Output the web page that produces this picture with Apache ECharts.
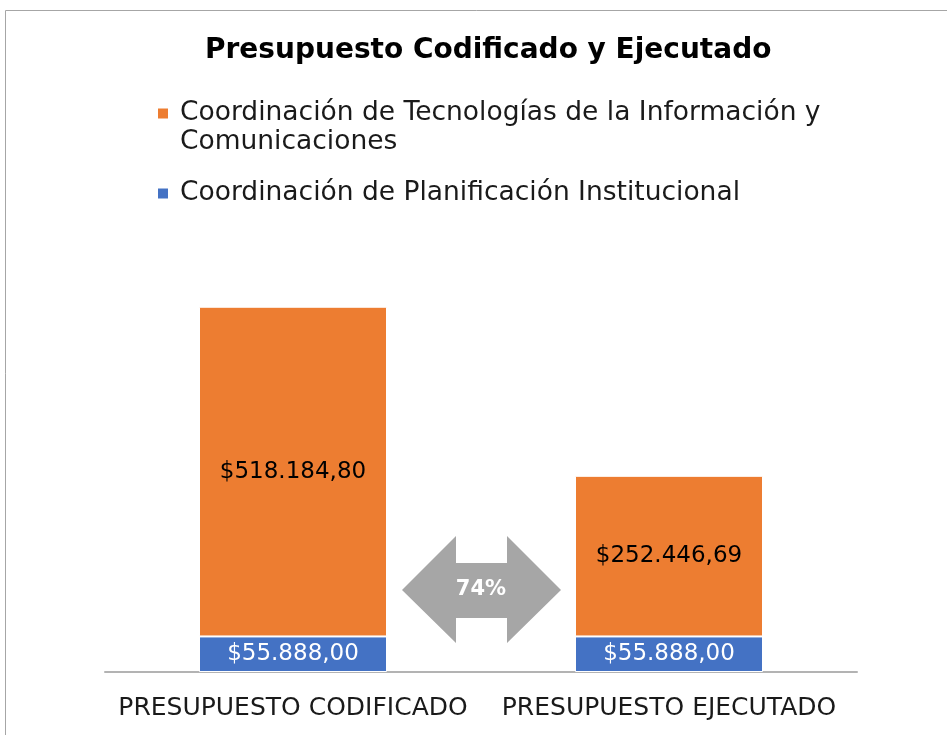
<!DOCTYPE html>
<html>
<head>
<meta charset="utf-8">
<script src="https://cdn.jsdelivr.net/npm/echarts@6/dist/echarts.min.js"></script>
<style>
html,body{margin:0;padding:0;background:#fff;}
#main{width:947px;height:735px;}
</style>
</head>
<body>
<div id="main"></div>
<script>
var categories = ['PRESUPUESTO CODIFICADO', 'PRESUPUESTO EJECUTADO'];
var planificacion = [55888.00, 55888.00];
var tecnologias = [518184.80, 252446.69];
var seriesNames = ['Coordinación de Tecnologías de la Información y Comunicaciones', 'Coordinación de Planificación Institucional'];
var arrowText = '74%';

var FONT = 'DejaVu Sans';

// formato 518.184,80
function moneda(v) {
	var partes = v.toFixed(2).split('.');
	var entero = partes[0].replace(/\B(?=(\d{3})+(?!\d))/g, '.');
	return '$' + entero + ',' + partes[1];
}

var myChart = echarts.init(document.getElementById('main'));
var option = {
	animation: false,
	textStyle: {fontFamily: FONT},
	title: {
		text: 'Presupuesto Codificado y Ejecutado',
		left: 200,
		top: 32,
		textStyle: {fontFamily: FONT, fontWeight: 'bold', fontSize: 28, color: '#000'}
	},
	legend: [{
		data: [seriesNames[0]],
		left: 151,
		top: 65,
		itemWidth: 12,
		itemHeight: 12,
		icon: 'rect',
		// linea vacia arriba para que el icono quede en la primera linea
		formatter: function () { return '\nCoordinación de Tecnologías de la Información y\nComunicaciones'; },
		textStyle: {fontSize: 26.5, color: '#1a1a1a', lineHeight: 29, padding: [0, 0, 0, 6]}
	}, {
		data: [seriesNames[1]],
		left: 151,
		top: 174,
		itemWidth: 12,
		itemHeight: 12,
		icon: 'rect',
		textStyle: {fontSize: 26.5, color: '#1a1a1a', lineHeight: 29, padding: [0, 0, 0, 6]}
	}],
	grid: {left: 105, right: 90, top: 163, bottom: 63},
	xAxis: {
		type: 'category',
		data: categories,
		axisLine: {lineStyle: {color: '#b3b3b3', width: 2}},
		axisTick: {show: false},
		axisLabel: {interval: 0, fontSize: 25, color: '#1a1a1a', margin: 24}
	},
	yAxis: {
		type: 'value',
		min: 0,
		max: 800000,
		show: false,
		splitLine: {show: false}
	},
	series: [{
		name: seriesNames[1],
		type: 'bar',
		stack: 'total',
		barWidth: '50%',
		data: planificacion,
		itemStyle: {color: '#4472C4', borderColor: '#fff', borderWidth: 1},
		label: {show: true, position: 'inside', fontSize: 23, color: '#fff', formatter: function (p) { return moneda(p.value); }}
	}, {
		name: seriesNames[0],
		type: 'bar',
		stack: 'total',
		data: tecnologias,
		itemStyle: {color: '#ED7D31', borderColor: '#fff', borderWidth: 1},
		label: {show: true, position: 'inside', fontSize: 23, color: '#000', formatter: function (p) { return moneda(p.value); }}
	}],
	graphic: [{
		type: 'rect',
		silent: true,
		shape: {x: 5.5, y: 10.5, width: 1000, height: 800},
		style: {fill: 'none', stroke: '#a6a6a6', lineWidth: 1}
	}, {
		type: 'polygon',
		silent: true,
		shape: {points: [[402, 590], [456, 536], [456, 563], [507, 563], [507, 536], [561, 590], [507, 643], [507, 618], [456, 618], [456, 643]]},
		style: {fill: '#a6a6a6'}
	}, {
		type: 'text',
		silent: true,
		style: {text: arrowText, x: 481, y: 590, align: 'center', verticalAlign: 'middle', fontFamily: FONT, fontWeight: 'bold', fontSize: 21, fill: '#fff'}
	}]
};
myChart.setOption(option);
</script>
</body>
</html>
